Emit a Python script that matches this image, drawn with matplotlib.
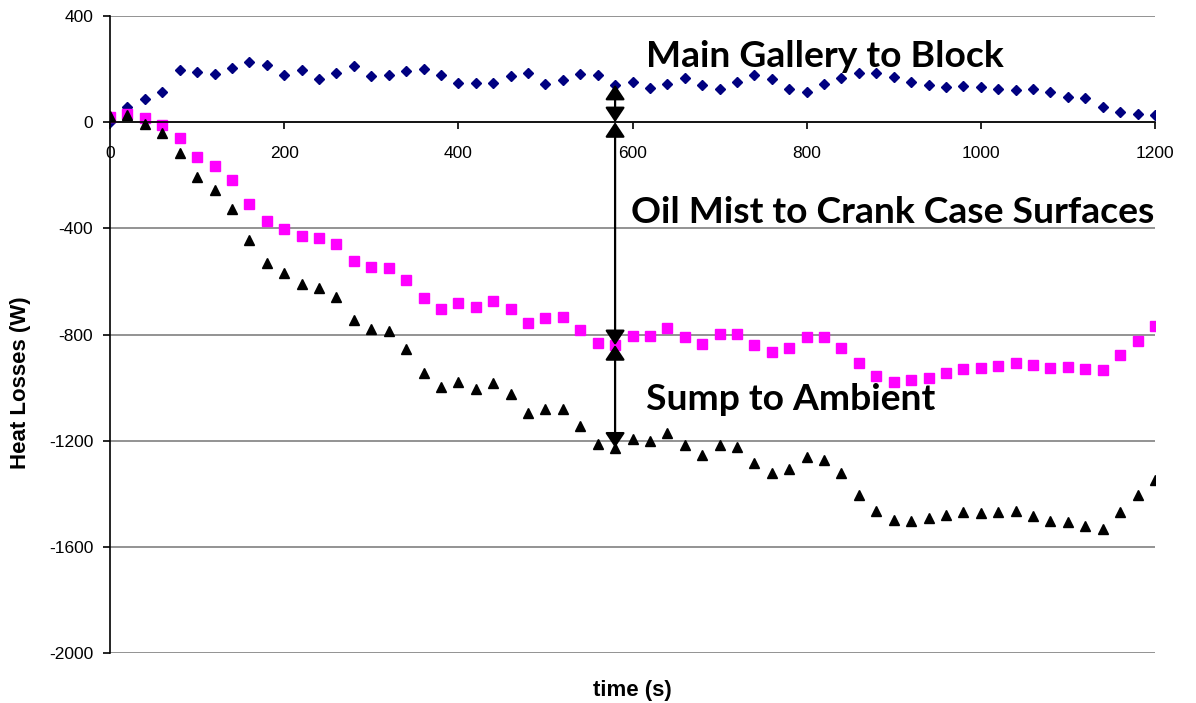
import numpy as np
import matplotlib
matplotlib.use('Agg')
import matplotlib.pyplot as plt

plt.rcParams['font.family'] = ['Liberation Sans', 'DejaVu Sans']
plt.rcParams['axes.unicode_minus'] = False

# time axis (s), one sample every 20 s
time = np.arange(0, 1201, 20)

# Main Gallery to Block (W)
gallery = [0, 59, 88, 114, 198, 189, 183, 204, 227, 217,
           179, 196, 164, 185, 213, 173, 176, 192, 199, 176,
           149, 149, 148, 173, 187, 145, 158, 181, 177, 141,
           150, 129, 144, 168, 140, 126, 151, 178, 162, 126,
           114, 145, 168, 185, 185, 170, 150, 140, 131, 135,
           134, 125, 120, 125, 115, 95, 91, 59, 38, 32, 28]

# Oil Mist to Crank Case Surfaces (W)
oil_mist = [18, 30, 14, -9, -59, -131, -165, -219, -308, -374,
            -401, -428, -435, -458, -524, -546, -549, -595, -664, -702,
            -681, -698, -674, -703, -757, -738, -735, -784, -832, -840,
            -806, -806, -776, -808, -836, -798, -798, -840, -867, -852,
            -809, -811, -849, -909, -955, -977, -973, -962, -945, -929,
            -927, -919, -909, -916, -928, -924, -929, -933, -877, -823, -769]

# Sump to Ambient (W)
sump = [23, 26, -5, -39, -116, -208, -254, -327, -445, -532,
        -569, -608, -623, -658, -746, -781, -786, -853, -945, -997,
        -980, -1004, -981, -1023, -1095, -1081, -1080, -1145, -1211, -1226,
        -1194, -1202, -1171, -1215, -1255, -1215, -1225, -1284, -1321, -1308,
        -1263, -1273, -1323, -1405, -1464, -1500, -1502, -1493, -1481, -1468,
        -1474, -1469, -1464, -1484, -1503, -1508, -1522, -1532, -1468, -1405, -1347]

arrow_t = 580
labels = ['Main Gallery to Block', 'Oil Mist to Crank Case Surfaces', 'Sump to Ambient']

fig = plt.figure(figsize=(11.96, 7.03), dpi=100)
ax = fig.add_axes([0.092, 0.0711, 0.8737, 0.9061])

ax.plot(time, gallery, 'D', color='#000080', ms=4.6, mec='#000080')
ax.plot(time, oil_mist, 's', color='#ff00ff', ms=7, mec='#ff00ff')
ax.plot(time, sump, '^', color='black', ms=7.5)

ax.set_xlim(0, 1200)
ax.set_ylim(-2000, 400)
ax.set_xticks(np.arange(0, 1201, 200))
ax.set_yticks(np.arange(-2000, 401, 400))
ax.yaxis.grid(True, color='#808080', lw=1.2)
ax.set_axisbelow(True)

for s in ['top', 'right']:
    ax.spines[s].set_visible(False)
ax.spines['bottom'].set_position(('data', 0))
ax.spines['left'].set_linewidth(1.2)
ax.spines['bottom'].set_linewidth(1.2)
ax.tick_params(axis='x', direction='out', length=5, width=1.2, pad=12, labelsize=12.5)
ax.tick_params(axis='y', direction='out', length=5, width=1.2, pad=7, labelsize=12.5)

ax.set_xlabel('time (s)', fontsize=16, fontweight='bold')
ax.xaxis.set_label_coords(0.5, -0.043)
ax.set_ylabel('Heat Losses (W)', fontsize=16, fontweight='bold')
ax.yaxis.set_label_coords(-0.076, 0.424)

# double-headed arrows marking each loss at t = 580 s
i = list(time).index(arrow_t)
style = '<|-|>,head_length=0.45,head_width=0.3'
for y0, y1 in [(0, gallery[i]), (oil_mist[i], 0), (sump[i], oil_mist[i])]:
    ax.annotate('', xy=(arrow_t, y1), xytext=(arrow_t, y0),
                arrowprops=dict(arrowstyle=style, color='black', lw=1.6,
                                mutation_scale=20, shrinkA=0, shrinkB=0))

tfont = dict(family=['Lato', 'DejaVu Sans'], fontweight='bold', fontsize=26.8, va='baseline')
ax.text(616, 208, labels[0], **tfont)
ax.text(598, -381, labels[1], **tfont)
ax.text(616, -1085, labels[2], **tfont)

fig.savefig('out.png', dpi=100)
